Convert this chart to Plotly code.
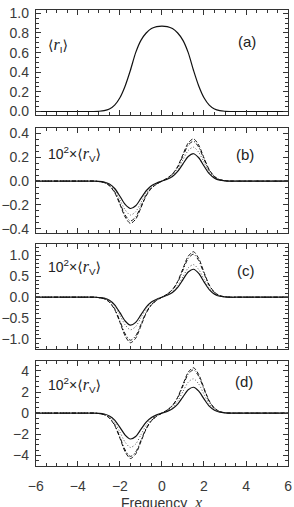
import plotly.graph_objects as go

# Frequency grid
freq = [-6, -3.5, -3.25, -3.0, -2.75, -2.5, -2.25, -2.0, -1.75, -1.5, -1.25, -1.0, -0.75, -0.5, -0.25,
        0.0, 0.25, 0.5, 0.75, 1.0, 1.25, 1.5, 1.75, 2.0, 2.25, 2.5, 2.75, 3.0, 3.25, 3.5, 6]

# Panel (a): <r_I>
rI = [0, 0, 0, 0.002, 0.008, 0.025, 0.065, 0.14, 0.26, 0.42, 0.60, 0.725, 0.80, 0.845, 0.865,
      0.87, 0.865, 0.845, 0.80, 0.725, 0.60, 0.42, 0.26, 0.14, 0.065, 0.025, 0.008, 0.002, 0, 0, 0]

# Panel (b): 10^2 x <r_V>
b_solid = [0, 0, 0, -0.002, -0.008, -0.025, -0.062, -0.127, -0.196, -0.23, -0.207, -0.145, -0.081, -0.039, -0.016,
           0, 0.016, 0.039, 0.081, 0.145, 0.207, 0.23, 0.196, 0.127, 0.062, 0.025, 0.008, 0.002, 0, 0, 0]
b_dot = [0, 0, 0, -0.003, -0.010, -0.031, -0.077, -0.157, -0.242, -0.285, -0.257, -0.180, -0.100, -0.048, -0.020,
         0, 0.020, 0.048, 0.100, 0.180, 0.257, 0.285, 0.242, 0.157, 0.077, 0.031, 0.010, 0.003, 0, 0, 0]
b_dash = [0, 0, 0, -0.004, -0.012, -0.039, -0.096, -0.195, -0.302, -0.355, -0.320, -0.224, -0.124, -0.060, -0.025,
          0, 0.025, 0.060, 0.124, 0.224, 0.320, 0.355, 0.302, 0.195, 0.096, 0.039, 0.012, 0.004, 0, 0, 0]
b_dashdot = [0, 0, 0, -0.003, -0.012, -0.037, -0.090, -0.184, -0.285, -0.335, -0.302, -0.211, -0.117, -0.057, -0.023,
             0, 0.023, 0.057, 0.117, 0.211, 0.302, 0.335, 0.285, 0.184, 0.090, 0.037, 0.012, 0.003, 0, 0, 0]

# Panel (c)
c_solid = [0, 0, 0, -0.007, -0.023, -0.074, -0.181, -0.369, -0.570, -0.67, -0.603, -0.422, -0.235, -0.114, -0.047,
           0, 0.047, 0.114, 0.235, 0.422, 0.603, 0.67, 0.570, 0.369, 0.181, 0.074, 0.023, 0.007, 0, 0, 0]
c_dot = [0, 0, 0, -0.008, -0.027, -0.086, -0.211, -0.429, -0.663, -0.78, -0.702, -0.491, -0.273, -0.133, -0.055,
         0, 0.055, 0.133, 0.273, 0.491, 0.702, 0.78, 0.663, 0.429, 0.211, 0.086, 0.027, 0.008, 0, 0, 0]
c_dash = [0, 0, 0, -0.011, -0.038, -0.120, -0.294, -0.600, -0.927, -1.09, -0.981, -0.687, -0.382, -0.185, -0.076,
          0, 0.076, 0.185, 0.382, 0.687, 0.981, 1.09, 0.927, 0.600, 0.294, 0.120, 0.038, 0.011, 0, 0, 0]
c_dashdot = [0, 0, 0, -0.010, -0.036, -0.113, -0.278, -0.567, -0.876, -1.03, -0.927, -0.649, -0.361, -0.175, -0.072,
             0, 0.072, 0.175, 0.361, 0.649, 0.927, 1.03, 0.876, 0.567, 0.278, 0.113, 0.036, 0.010, 0, 0, 0]

# Panel (d)
d_solid = [0, 0, 0, -0.025, -0.086, -0.27, -0.66, -1.35, -2.08, -2.45, -2.21, -1.54, -0.86, -0.42, -0.17,
           0, 0.17, 0.42, 0.86, 1.54, 2.21, 2.45, 2.08, 1.35, 0.66, 0.27, 0.086, 0.025, 0, 0, 0]
d_dot = [0, 0, 0, -0.03, -0.11, -0.36, -0.88, -1.79, -2.76, -3.25, -2.93, -2.05, -1.14, -0.55, -0.23,
         0, 0.23, 0.55, 1.14, 2.05, 2.93, 3.25, 2.76, 1.79, 0.88, 0.36, 0.11, 0.03, 0, 0, 0]
d_dash = [0, 0, 0, -0.04, -0.15, -0.47, -1.16, -2.37, -3.66, -4.3, -3.87, -2.71, -1.51, -0.73, -0.30,
          0, 0.30, 0.73, 1.51, 2.71, 3.87, 4.3, 3.66, 2.37, 1.16, 0.47, 0.15, 0.04, 0, 0, 0]
d_dashdot = [0, 0, 0, -0.04, -0.14, -0.45, -1.11, -2.26, -3.49, -4.1, -3.69, -2.58, -1.44, -0.70, -0.29,
             0, 0.29, 0.70, 1.44, 2.58, 3.69, 4.1, 3.49, 2.26, 1.11, 0.45, 0.14, 0.04, 0, 0, 0]

panel_tags = ["(a)", "(b)", "(c)", "(d)"]
x_ticks = [-6, -4, -2, 0, 2, 4, 6]

W, H = 294, 507
def px_x(p): return p / W
def px_y(p): return 1 - p / H

fig = go.Figure()

styles = [
    dict(color="#111", width=1.2, dash="solid"),
    dict(color="#555", width=1.0, dash="1px,2px"),
    dict(color="#111", width=1.0, dash="4px,2px"),
    dict(color="#111", width=1.0, dash="4px,2px,1px,2px"),
]

def add(series, ax_i, style):
    fig.add_trace(go.Scatter(x=freq, y=series, mode="lines",
                             line=dict(shape="spline", smoothing=0.8, **style),
                             xaxis="x" if ax_i == 1 else f"x{ax_i}",
                             yaxis="y" if ax_i == 1 else f"y{ax_i}",
                             showlegend=False, hoverinfo="skip"))

add(rI, 1, styles[0])
for ax_i, group in [(2, [b_solid, b_dot, b_dash, b_dashdot]),
                    (3, [c_solid, c_dot, c_dash, c_dashdot]),
                    (4, [d_solid, d_dot, d_dash, d_dashdot])]:
    for k, s in enumerate(group):
        add(s, ax_i, styles[k])

frames = [(5, 112), (125, 232), (243, 350), (362, 469)]
yranges = [[-0.036, 1.035], [-0.435, 0.448], [-1.235, 1.282], [-4.98, 4.98]]
ydt = [0.2, 0.2, 0.5, 2]
ymin = [0.05, 0.05, 0.1, 0.5]
yfmt = [".1f", ".1f", ".1f", "d"]

font_tick = dict(family="Liberation Sans, Arial, sans-serif", size=14, color="#3a3a3a")
layout = dict(width=W, height=H, margin=dict(l=0, r=0, t=0, b=0),
              paper_bgcolor="white", plot_bgcolor="white", showlegend=False)

for i in range(4):
    n = "" if i == 0 else str(i + 1)
    top, bot = frames[i]
    layout["xaxis" + n] = dict(
        domain=[px_x(29), px_x(292)], anchor="y" + n, range=[-6, 6],
        tickvals=x_ticks, ticks="inside", ticklen=5, tickcolor="#333",
        minor=dict(dtick=0.5, tick0=0, ticks="inside", ticklen=3, tickcolor="#333"),
        showline=True, linecolor="#333", linewidth=1, mirror="ticks",
        showgrid=False, zeroline=False, showticklabels=(i == 3),
        tickfont=font_tick, ticklabeloverflow="allow", ticklabelstandoff=8)
    layout["yaxis" + n] = dict(
        domain=[px_y(bot), px_y(top)], anchor="x" + n, range=yranges[i],
        tick0=0, dtick=ydt[i], tickformat=yfmt[i], ticks="inside", ticklen=5, tickcolor="#333",
        minor=dict(dtick=ymin[i], tick0=0, ticks="inside", ticklen=3, tickcolor="#333"),
        showline=True, linecolor="#333", linewidth=1, mirror="ticks",
        showgrid=False, zeroline=False, tickfont=font_tick, ticklabeloverflow="allow",
        ticklabelstandoff=3)

fig.update_layout(**layout)

ann_font = dict(family="Liberation Sans, DejaVu Sans, sans-serif", size=15, color="#222")
tag_pos = [(249, 37), (247, 152), (248, 270), (246, 383)]
for t, (xp, yp) in zip(panel_tags, tag_pos):
    fig.add_annotation(text=t, x=px_x(xp), y=px_y(yp), xref="paper", yref="paper",
                       showarrow=False, xanchor="center", yanchor="middle", font=ann_font)

r_html = "<span style='font-family:Liberation Serif;font-size:16px'><i>r</i></span>"
lab_font = dict(family="Liberation Sans, DejaVu Sans, sans-serif", size=14, color="#222")
fig.add_annotation(text="⟨" + r_html + "<sub>I</sub>⟩", x=px_x(40), y=px_y(41), xref="paper", yref="paper",
                   showarrow=False, xanchor="left", yanchor="middle", font=lab_font)
for yp in [152, 267, 387]:
    fig.add_annotation(text="10<sup>2</sup>×⟨" + r_html + "<sub>V</sub>⟩", x=px_x(40), y=px_y(yp),
                       xref="paper", yref="paper", showarrow=False, xanchor="left", yanchor="middle",
                       font=lab_font)

fig.add_annotation(text="Frequency  " + "<span style='font-family:Liberation Serif;font-size:16px'><i>x</i></span>",
                   x=px_x(160), y=px_y(496), xref="paper", yref="paper", showarrow=False,
                   xanchor="center", yanchor="top",
                   font=dict(family="Liberation Sans, sans-serif", size=14, color="#333"))

fig.write_html("out.html")
